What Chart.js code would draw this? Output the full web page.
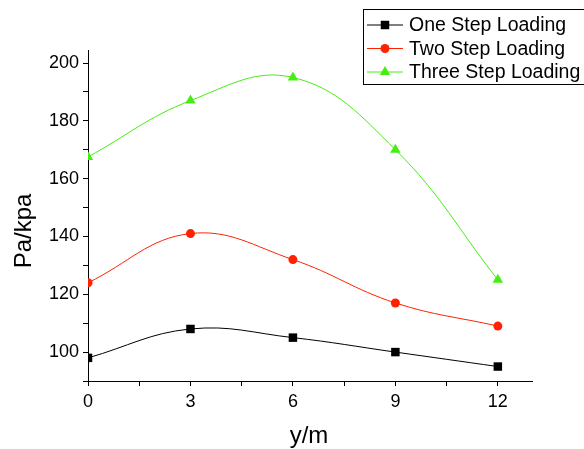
<!DOCTYPE html>
<html>
<head>
<meta charset="utf-8">
<script src="https://cdn.jsdelivr.net/npm/chart.js@4/dist/chart.umd.min.js"></script>
<style>
  html, body { margin: 0; padding: 0; background: #fff; }
  #wrap { width: 584px; height: 449px; }
</style>
</head>
<body>
<div id="wrap"><canvas id="chart"></canvas></div>
<script>
const positions = [0, 3, 6, 9, 12];
const oneStep = [98, 108, 105, 100, 95];
const twoStep = [124, 141, 132, 117, 109];
const threeStep = [167.5, 187, 195, 170, 125];
const seriesNames = ['One Step Loading', 'Two Step Loading', 'Three Step Loading'];
const xLabels = [0, 3, 6, 9, 12];
const yLabels = [100, 120, 140, 160, 180, 200];
const xTitle = 'y/m';
const yTitle = 'Pa/kpa';

const font = "'Liberation Sans', Arial, sans-serif";

function points(vals) {
    return positions.map((x, i) => ({ x: x, y: vals[i] }));
}

function makeSet(label, vals, color, style, radius) {
    return {
        label: label,
        data: points(vals),
        borderColor: color,
        backgroundColor: color,
        borderWidth: 1,
        pointStyle: style,
        pointRadius: radius,
        pointBorderWidth: 0,
        tension: 0.4
    };
}

/* --- legend drawn by hand: line - marker - line, plus axis titles --- */
const boxLegend = {
    id: 'boxLegend',
    afterDraw(chart) {
        const ctx = chart.ctx;
        ctx.save();
        ctx.strokeStyle = '#000';
        ctx.lineWidth = 1;
        ctx.strokeRect(363.5, 9.5, 230, 75);
        ctx.font = '19.5px ' + font;
        ctx.textBaseline = 'middle';
        chart.data.datasets.forEach((ds, i) => {
            const y = 25 + i * 23.5;
            ctx.strokeStyle = ds.borderColor;
            ctx.beginPath();
            ctx.moveTo(367, y);
            ctx.lineTo(403, y);
            ctx.stroke();
            ctx.fillStyle = ds.backgroundColor;
            Chart.helpers.drawPoint(ctx, { pointStyle: ds.pointStyle, radius: ds.pointRadius, borderWidth: 0 }, 385, y);
            ctx.fillStyle = '#000';
            ctx.fillText(ds.label, 409, y + 1);
        });

        ctx.font = '24px ' + font;
        ctx.fillStyle = '#000';
        ctx.textAlign = 'center';
        ctx.textBaseline = 'middle';
        ctx.fillText(xTitle, 309, 436);
        ctx.translate(24, 231);
        ctx.rotate(-Math.PI / 2);
        ctx.fillText(yTitle, 0, 0);
        ctx.restore();
    }
};

new Chart(document.getElementById('chart'), {
    type: 'line',
    data: {
        datasets: [
            makeSet(seriesNames[0], oneStep, '#000000', 'rect', 6),
            makeSet(seriesNames[1], twoStep, '#ff2200', 'circle', 4.5),
            makeSet(seriesNames[2], threeStep, '#44ee11', 'triangle', 6)
        ]
    },
    options: {
        responsive: true,
        maintainAspectRatio: false,
        animation: false,
        layout: { padding: { top: 50, right: 52, left: 0, bottom: 0 } },
        plugins: { legend: { display: false }, tooltip: { enabled: false } },
        scales: {
            x: {
                type: 'linear',
                min: 0,
                max: 13,
                afterBuildTicks: s => { s.ticks = [0, 1.5, 3, 4.5, 6, 7.5, 9, 10.5, 12].map(v => ({ value: v })); },
                afterFit: s => { s.height = 68; },
                ticks: {
                    color: '#000',
                    font: { family: font, size: 18 },
                    padding: 5,
                    maxRotation: 0,
                    callback: v => xLabels.includes(v) ? String(v) : ''
                },
                grid: { drawOnChartArea: false, tickLength: 5, color: '#000' },
                border: { color: '#000', width: 1 }
            },
            y: {
                min: 90,
                max: 204.5,
                afterBuildTicks: s => {
                    const t = [];
                    for (let v = 90; v <= 200; v += 10) t.push({ value: v });
                    s.ticks = t;
                },
                afterFit: s => { s.width = 88; },
                ticks: {
                    color: '#000',
                    font: { family: font, size: 18 },
                    padding: 4,
                    callback: v => yLabels.includes(v) ? String(v) : ''
                },
                grid: { drawOnChartArea: false, tickLength: 5, color: '#000' },
                border: { color: '#000', width: 1 }
            }
        }
    },
    plugins: [boxLegend]
});
</script>
</body>
</html>
